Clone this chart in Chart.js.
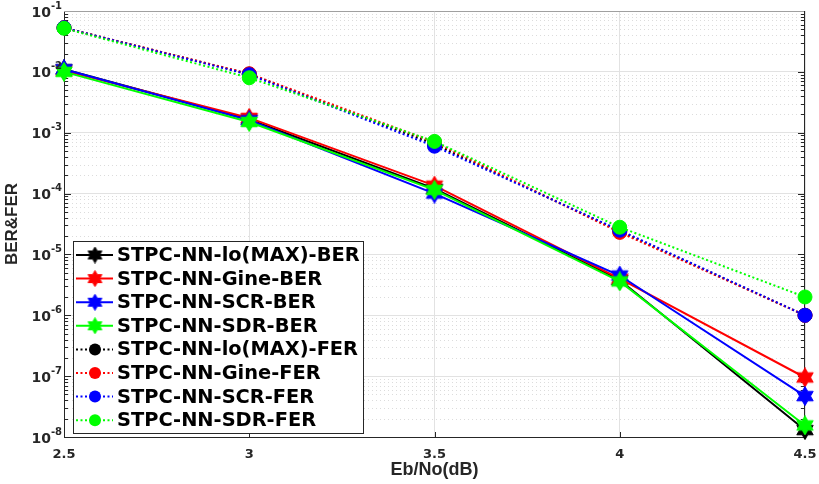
<!DOCTYPE html>
<html>
<head>
<meta charset="utf-8">
<script src="https://cdn.jsdelivr.net/npm/chart.js@4.4.1/dist/chart.umd.min.js"></script>
<style>
  html, body { margin: 0; padding: 0; background: #ffffff; }
  #wrap { width: 819px; height: 484px; }
</style>
</head>
<body>
<div id="wrap"><canvas id="c" width="819" height="484"></canvas></div>
<script>
// ---- data ----
const ebno = [2.5, 3, 3.5, 4, 4.5];
const xTickValues = [2.5, 3, 3.5, 4, 4.5];
const yDecadeExponents = [-8, -7, -6, -5, -4, -3, -2, -1];

const berLogMax = [1.10e-2, 1.65e-3, 1.20e-4, 3.8e-6, 1.3e-8];
const berGine   = [1.05e-2, 1.75e-3, 1.35e-4, 4.0e-6, 9.5e-8];
const berSCR    = [1.10e-2, 1.60e-3, 1.00e-4, 4.5e-6, 4.7e-8];
const berSDR    = [1.00e-2, 1.50e-3, 1.15e-4, 3.6e-6, 1.55e-8];

const ferLogMax = [5.3e-2, 9.2e-3, 6.5e-4, 2.4e-5, 1.0e-6];
const ferGine   = [5.3e-2, 9.3e-3, 7.0e-4, 2.3e-5, 1.0e-6];
const ferSCR    = [5.3e-2, 9.0e-3, 6.0e-4, 2.5e-5, 1.0e-6];
const ferSDR    = [5.2e-2, 8.0e-3, 7.2e-4, 2.8e-5, 2.0e-6];

const seriesLabels = [
  'STPC-NN-lo(MAX)-BER', 'STPC-NN-Gine-BER', 'STPC-NN-SCR-BER', 'STPC-NN-SDR-BER',
  'STPC-NN-lo(MAX)-FER', 'STPC-NN-Gine-FER', 'STPC-NN-SCR-FER', 'STPC-NN-SDR-FER'
];
const seriesValues = [berLogMax, berGine, berSCR, berSDR, ferLogMax, ferGine, ferSCR, ferSDR];
const seriesColors = ['#000000', '#ff0000', '#0000ff', '#00ff00', '#000000', '#ff0000', '#0000ff', '#00ff00'];
const seriesIsBER = [true, true, true, true, false, false, false, false];

// ---- styling ----
const FONT = 'DejaVu Sans';
const TITLE_FONT = 'Liberation Sans';
const AXIS_COLOR = '#262626';

function makeHexagram(color, size) {
  const c = document.createElement('canvas');
  c.width = size; c.height = size;
  const g = c.getContext('2d');
  const R = size / 2 - 0.5, r = R / Math.sqrt(3);
  g.beginPath();
  for (let k = 0; k < 12; k++) {
    const ang = -Math.PI / 2 + k * Math.PI / 6;
    const rad = (k % 2 === 0) ? R : r;
    g.lineTo(size / 2 + rad * Math.cos(ang), size / 2 + rad * Math.sin(ang));
  }
  g.closePath();
  g.fillStyle = color; g.fill();
  g.strokeStyle = color; g.lineWidth = 1; g.stroke();
  return c;
}

const N = seriesLabels.length;
const datasets = seriesLabels.map((label, i) => {
  const isBER = seriesIsBER[i];
  return {
    label: label,
    data: ebno.map((x, j) => ({ x: x, y: seriesValues[i][j] })),
    borderColor: seriesColors[i],
    backgroundColor: seriesColors[i],
    borderWidth: 2,
    borderDash: isBER ? [] : [2, 2.5],
    pointStyle: isBER ? makeHexagram(seriesColors[i], 20) : 'circle',
    pointRadius: isBER ? 10 : 7,
    pointBorderWidth: 1,
    pointBackgroundColor: seriesColors[i],
    pointBorderColor: seriesColors[i],
    tension: 0,
    clip: false,
    order: N - i,
    _legendStar: isBER ? makeHexagram(seriesColors[i], 17) : null
  };
});

// ---- custom decorations: minor grid, inward ticks, y labels, box, legend ----
const decor = {
  id: 'decor',
  beforeDatasetsDraw(chart) {
    const { ctx, chartArea: a, scales: { x, y } } = chart;
    ctx.save();
    // minor dotted grid
    ctx.strokeStyle = '#dcdcdc';
    ctx.lineWidth = 1;
    ctx.setLineDash([1, 3]);
    for (const e of yDecadeExponents) {
      for (let m = 2; m <= 9; m++) {
        const v = m * Math.pow(10, e - 1);
        if (v < 1e-8 || v > 1e-1) continue;
        const py = Math.round(y.getPixelForValue(v)) + 0.5;
        ctx.beginPath(); ctx.moveTo(a.left, py); ctx.lineTo(a.right, py); ctx.stroke();
      }
    }
    ctx.setLineDash([]);
    // top & right box lines
    ctx.strokeStyle = '#a0a0a0';
    ctx.beginPath(); ctx.moveTo(a.left, a.top + 0.5); ctx.lineTo(a.right, a.top + 0.5); ctx.stroke();
    ctx.strokeStyle = AXIS_COLOR;
    ctx.beginPath(); ctx.moveTo(a.right - 0.5, a.top); ctx.lineTo(a.right - 0.5, a.bottom); ctx.stroke();
    // inward ticks on y (left & right)
    for (const e of yDecadeExponents) {
      for (let m = 1; m <= 9; m++) {
        const v = m * Math.pow(10, e - 1);
        if (v < 1e-8 || v > 1e-1) continue;
        const py = Math.round(y.getPixelForValue(v)) + 0.5;
        const len = (m === 1) ? 7 : 4;
        ctx.beginPath();
        ctx.moveTo(a.left, py); ctx.lineTo(a.left + len, py);
        ctx.moveTo(a.right, py); ctx.lineTo(a.right - len, py);
        ctx.stroke();
      }
    }
    // inward ticks on x (bottom)
    for (const v of xTickValues) {
      const px = Math.round(x.getPixelForValue(v)) + 0.5;
      ctx.beginPath();
      ctx.moveTo(px, a.bottom); ctx.lineTo(px, a.bottom - 5);
      ctx.stroke();
    }
    ctx.restore();
  },
  afterDraw(chart) {
    const { ctx, chartArea: a, scales: { y } } = chart;
    ctx.save();
    // y tick labels 10^n
    ctx.fillStyle = AXIS_COLOR;
    ctx.textBaseline = 'middle';
    for (const e of yDecadeExponents) {
      const py = y.getPixelForValue(Math.pow(10, e));
      const expTxt = String(e);
      ctx.font = 'bold 10px "' + FONT + '"';
      const ew = ctx.measureText(expTxt).width;
      const right = a.left - 2;
      ctx.textAlign = 'right';
      ctx.fillText(expTxt, right, py - 5);
      ctx.font = 'bold 14px "' + FONT + '"';
      ctx.fillText('10', right - ew, py + 2);
    }
    // legend
    const lx = 73, ly = 241, lw = 290, lh = 192;
    ctx.fillStyle = '#ffffff';
    ctx.fillRect(lx, ly, lw, lh);
    ctx.strokeStyle = '#262626';
    ctx.lineWidth = 1;
    ctx.strokeRect(lx + 0.5, ly + 0.5, lw, lh);
    const rowH = 23.6;
    chart.data.datasets.forEach((ds, i) => {
      const cy = ly + 14 + i * rowH;
      ctx.strokeStyle = ds.borderColor;
      ctx.lineWidth = 2;
      ctx.setLineDash(ds.borderDash);
      ctx.beginPath(); ctx.moveTo(lx + 3, cy); ctx.lineTo(lx + 40, cy); ctx.stroke();
      ctx.setLineDash([]);
      const mx = lx + 22;
      if (ds._legendStar) {
        ctx.drawImage(ds._legendStar, mx - ds._legendStar.width / 2, cy - ds._legendStar.height / 2);
      } else {
        ctx.fillStyle = ds.borderColor;
        ctx.beginPath(); ctx.arc(mx, cy, 6, 0, Math.PI * 2); ctx.fill();
      }
      ctx.fillStyle = '#000000';
      ctx.font = 'bold 19.4px "' + FONT + '"';
      ctx.textAlign = 'left';
      ctx.textBaseline = 'middle';
      ctx.fillText(ds.label, lx + 44, cy + 1);
    });
    ctx.restore();
  }
};

new Chart(document.getElementById('c'), {
  type: 'line',
  data: { datasets: datasets },
  plugins: [decor],
  options: {
    responsive: false,
    animation: false,
    devicePixelRatio: 1,
    events: [],
    layout: { padding: { left: 0, right: 14, top: 11, bottom: 0 } },
    plugins: { legend: { display: false }, tooltip: { enabled: false } },
    scales: {
      x: {
        type: 'linear',
        min: 2.5, max: 4.5,
        afterBuildTicks: (s) => { s.ticks = xTickValues.map(v => ({ value: v })); },
        afterFit: (s) => { s.height = 47; s.paddingLeft = 0; s.paddingRight = 0; },
        grid: { color: '#e2e2e2', lineWidth: 1, drawTicks: false },
        border: { color: AXIS_COLOR, width: 1 },
        ticks: {
          color: AXIS_COLOR, padding: 10, maxRotation: 0, autoSkip: false,
          font: { family: FONT, weight: 'bold', size: 13 },
          callback: (v) => String(v)
        },
        title: {
          display: true, text: 'Eb/No(dB)', color: AXIS_COLOR,
          font: { family: TITLE_FONT, weight: 'bold', size: 18 },
          padding: { top: 0, bottom: 3 }
        }
      },
      y: {
        type: 'logarithmic',
        min: 1e-8, max: 1e-1,
        afterBuildTicks: (s) => { s.ticks = yDecadeExponents.map(e => ({ value: Math.pow(10, e) })); },
        afterFit: (s) => { s.width = 64; s.paddingTop = 0; s.paddingBottom = 0; },
        grid: { color: '#e2e2e2', lineWidth: 1, drawTicks: false },
        border: { color: AXIS_COLOR, width: 1 },
        ticks: { display: false },
        title: {
          display: true, text: 'BER&FER', color: AXIS_COLOR,
          font: { family: TITLE_FONT, weight: 'bold', size: 17 },
          padding: { top: 2, bottom: 0 }
        }
      }
    }
  }
});
</script>
</body>
</html>
